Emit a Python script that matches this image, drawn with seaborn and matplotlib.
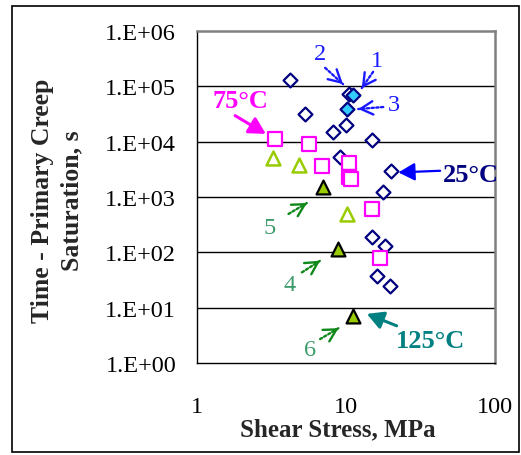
import matplotlib
matplotlib.use("Agg")
import matplotlib.pyplot as plt
import seaborn as sns
import numpy as np
from matplotlib.ticker import LogLocator, FuncFormatter, NullFormatter
from matplotlib.patches import Rectangle

# ---- data: shear stress (MPa) vs time to primary creep saturation (s) ----
# 25 °C tests (open diamonds)
stress_25c = [4.2, 10.5, 5.3, 10.0, 8.2, 15.0, 9.1, 20.2, 17.8, 14.9, 18.4, 16.1, 19.7]
time_25c = [1.3e5, 7.4e4, 3.1e4, 2.0e4, 1.5e4, 1.06e4, 5.3e3, 3.0e3, 1.25e3, 187, 129, 38, 25]
# highlighted 25 °C tests (filled diamonds, tests 1 and 3)
stress_25c_hl = [11.1, 10.1]
time_25c_hl = [6.9e4, 3.9e4]
# 75 °C tests (open squares)
stress_75c = [3.35, 5.68, 6.88, 10.4, 10.5, 10.8, 14.9, 17.0]
time_75c = [1.1e4, 9.0e3, 3.7e3, 4.1e3, 2.28e3, 2.1e3, 610, 78]
# open triangles
stress_tri = [3.26, 4.8, 10.1]
time_tri = [5.0e3, 3.86e3, 494]
# 125 °C tests (filled triangles)
stress_125c = [7.05, 8.8, 11.1]
time_125c = [1.54e3, 115, 7.2]

y_ticks = [1e0, 1e1, 1e2, 1e3, 1e4, 1e5, 1e6]

sns.set_style("white")
plt.rcParams["font.family"] = ["Liberation Serif", "DejaVu Serif"]

fig = plt.figure(figsize=(5.21, 4.56), dpi=100)
ax = fig.add_axes([197 / 521, 92 / 456, 298 / 521, 332 / 456])
ax.set_xscale("log")
ax.set_yscale("log")

# horizontal grid at each decade
for v in y_ticks[1:-1]:
    ax.axhline(v, color="black", lw=1.0, zorder=1)

sns.scatterplot(x=stress_25c, y=time_25c, marker="D", s=50, facecolor="white",
                edgecolor="#000080", linewidth=1.6, ax=ax, zorder=3)
sns.scatterplot(x=stress_25c_hl, y=time_25c_hl, marker="D", s=50, facecolor="#33ccff",
                edgecolor="#000080", linewidth=1.6, ax=ax, zorder=4)
sns.scatterplot(x=stress_75c, y=time_75c, marker="s", s=110, facecolor="white",
                edgecolor="#ff00ff", linewidth=1.6, ax=ax, zorder=3)
sns.scatterplot(x=stress_tri, y=time_tri, marker="^", s=100, facecolor="white",
                edgecolor="#99cc00", linewidth=1.8, ax=ax, zorder=3)
sns.scatterplot(x=stress_125c, y=time_125c, marker="^", s=100, facecolor="#99cc00",
                edgecolor="black", linewidth=1.6, ax=ax, zorder=4)

ax.set_xlim(1, 100)
ax.set_ylim(1, 1e6)

ax.xaxis.set_major_locator(LogLocator(base=10, subs=(1.0,)))
ax.xaxis.set_minor_locator(LogLocator(base=10, subs=np.arange(2, 10)))
ax.yaxis.set_major_locator(LogLocator(base=10, subs=(1.0,)))
ax.yaxis.set_minor_locator(LogLocator(base=10, subs=np.arange(2, 10)))
ax.xaxis.set_major_formatter(FuncFormatter(lambda v, p: f"{v:g}"))
ax.yaxis.set_major_formatter(FuncFormatter(lambda v, p: f"1.E+{int(round(np.log10(v))):02d}"))
ax.xaxis.set_minor_formatter(NullFormatter())
ax.yaxis.set_minor_formatter(NullFormatter())

ax.tick_params(axis="x", which="major", direction="out", length=7, width=1,
               labelsize=17.5, pad=17, colors="black")
ax.tick_params(axis="y", which="major", direction="out", length=6, width=1,
               labelsize=17.5, pad=9, colors="black")
ax.tick_params(which="minor", direction="in", length=4, width=0.8, colors="black")
ax.tick_params(top=False, right=False, which="both")

for side in ("left", "bottom"):
    ax.spines[side].set_color("black")
    ax.spines[side].set_linewidth(1.0)
for side in ("top", "right"):
    ax.spines[side].set_color("#808080")
    ax.spines[side].set_linewidth(1.8)

ax.set_xlabel("Shear Stress, MPa", fontsize=18, fontweight="bold")
ax.xaxis.set_label_coords(0.472, -0.165)
ax.set_ylabel("Time - Primary Creep\nSaturation, s", fontsize=18.5,
              fontweight="bold", linespacing=1.35)
ax.yaxis.set_label_coords(-0.38, 0.491)


def pointer(label, text_xy, tail, head, color, text_color, size, weight,
            dotted=False, lw=1.5, head_len=0.5, head_w=0.3, scale=14):
    """Label with an arrow; positions are in axes fractions."""
    ax.text(*text_xy, label, transform=ax.transAxes, color=text_color,
            fontsize=size, fontweight=weight, ha="center", va="center",
            clip_on=False, zorder=6)
    if dotted:
        ax.annotate("", xy=head, xytext=tail, xycoords="axes fraction",
                    textcoords="axes fraction",
                    arrowprops=dict(arrowstyle="-", color=color, lw=lw,
                                    linestyle=(0, (1, 1.0)), shrinkA=0, shrinkB=0),
                    zorder=6)
        dx, dy = head[0] - tail[0], head[1] - tail[1]
        back = (head[0] - 0.15 * dx, head[1] - 0.15 * dy)
        ax.annotate("", xy=head, xytext=back, xycoords="axes fraction",
                    textcoords="axes fraction",
                    arrowprops=dict(arrowstyle=f"->,head_length={head_len},head_width={head_w}",
                                    color=color, lw=lw, shrinkA=0, shrinkB=0,
                                    mutation_scale=scale),
                    zorder=6)
    else:
        ax.annotate("", xy=head, xytext=tail, xycoords="axes fraction",
                    textcoords="axes fraction",
                    arrowprops=dict(arrowstyle=f"-|>,head_length={head_len},head_width={head_w}",
                                    color=color, lw=lw, shrinkA=0, shrinkB=0,
                                    mutation_scale=scale),
                    zorder=6)


blue = "#1a1aff"
green = "#11881a"
num_green = "#3d9c6c"

pointer("2", (0.413, 0.931), (0.430, 0.889), (0.490, 0.840), blue, blue, 17.5, "normal",
        dotted=True, lw=1.7, head_len=0.55, head_w=0.3, scale=16)
pointer("1", (0.603, 0.911), (0.591, 0.877), (0.553, 0.828), blue, blue, 17.5, "normal",
        dotted=True, lw=1.7, head_len=0.55, head_w=0.3, scale=16)
pointer("3", (0.660, 0.780), (0.625, 0.771), (0.541, 0.765), blue, blue, 17.5, "normal",
        dotted=True, lw=1.7, head_len=0.55, head_w=0.3, scale=16)
pointer("5", (0.243, 0.409), (0.307, 0.449), (0.369, 0.482), green, num_green, 17.5, "normal",
        dotted=True, lw=1.7, head_len=0.55, head_w=0.3, scale=16)
pointer("4", (0.310, 0.235), (0.352, 0.273), (0.413, 0.308), green, num_green, 17.5, "normal",
        dotted=True, lw=1.7, head_len=0.55, head_w=0.3, scale=16)
pointer("6", (0.380, 0.042), (0.413, 0.072), (0.475, 0.105), green, num_green, 17.5, "normal",
        dotted=True, lw=1.7, head_len=0.55, head_w=0.3, scale=16)

pointer("75°C", (0.145, 0.790), (0.128, 0.745), (0.231, 0.690), "#ff00ff", "#ff00ff", 19,
        "bold", lw=2.2, head_len=0.55, head_w=0.3, scale=18)
pointer("25°C", (0.918, 0.569), (0.816, 0.579), (0.676, 0.574), "#0000ff", "#000080", 19,
        "bold", lw=1.6, head_len=0.55, head_w=0.3, scale=18)
pointer("125°C", (0.782, 0.067), (0.670, 0.112), (0.570, 0.148), "#008080", "#008080", 19,
        "bold", lw=2.2, head_len=0.55, head_w=0.3, scale=18)

# outer frame around the chart
fig.patches.append(Rectangle((12 / 521, 3 / 456), 507 / 521, 446 / 456,
                             transform=fig.transFigure, fill=False,
                             edgecolor="black", lw=1.2))

fig.savefig("out.png", dpi=100)
